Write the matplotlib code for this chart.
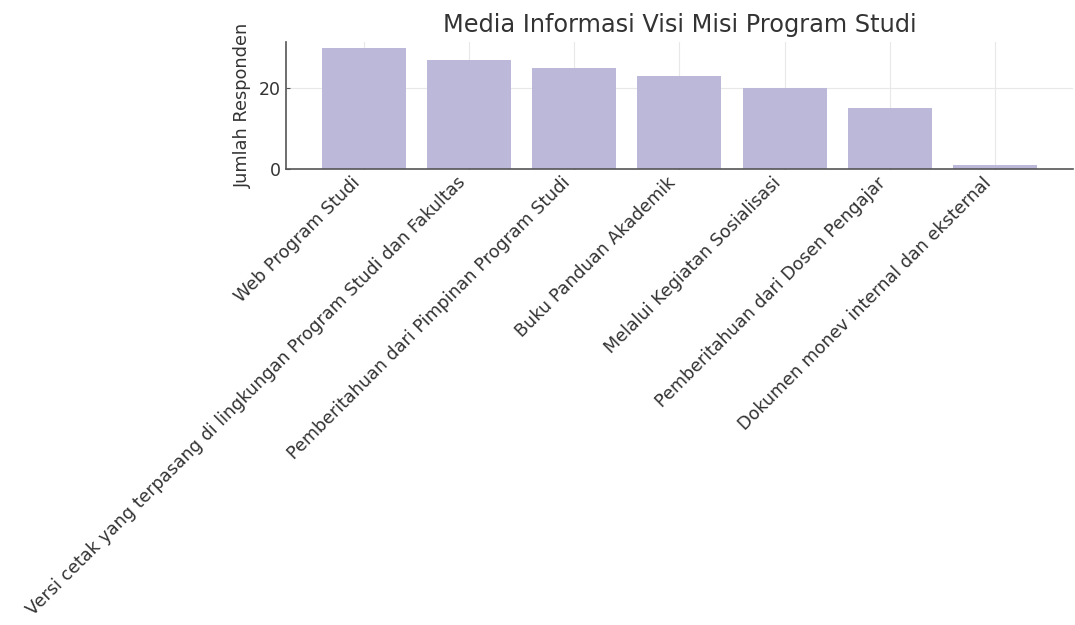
import matplotlib.pyplot as plt

kategori = ['Web Program Studi',
            'Versi cetak yang terpasang di lingkungan Program Studi dan Fakultas',
            'Pemberitahuan dari Pimpinan Program Studi',
            'Buku Panduan Akademik',
            'Melalui Kegiatan Sosialisasi',
            'Pemberitahuan dari Dosen Pengajar',
            'Dokumen monev internal dan eksternal']
jumlah = [30, 27, 25, 23, 20, 15, 1]
yticks = [0, 20]

plt.rcParams['font.family'] = ['DejaVu Sans']
fig = plt.figure(figsize=(10.75, 6.25), dpi=100)
ax = fig.add_axes([0.266, 0.730, 0.732, 0.203])

ax.bar(kategori, jumlah, color='#bcb8da', width=0.8, zorder=2)
ax.set_yticks(yticks)
ax.set_title('Media Informasi Visi Misi Program Studi', fontsize=17.3, color='#333333', pad=7)
ax.set_ylabel('Jumlah Responden', fontsize=12.8, color='#333333', labelpad=5)
ax.grid(color='#e8e8e8', linewidth=0.8, zorder=0)
for s in ['top', 'right']:
    ax.spines[s].set_visible(False)
for s in ['left', 'bottom']:
    ax.spines[s].set_color('#555555')
    ax.spines[s].set_linewidth(1.2)
ax.tick_params(direction='in', length=3, colors='#555555', labelcolor='#333333')
ax.tick_params(axis='y', labelsize=12.5)
ax.tick_params(axis='x', labelsize=12.6)
plt.setp(ax.get_xticklabels(), rotation=45, ha='right')
ax.set_ylim(0, 31.5)

fig.savefig('out.png')
